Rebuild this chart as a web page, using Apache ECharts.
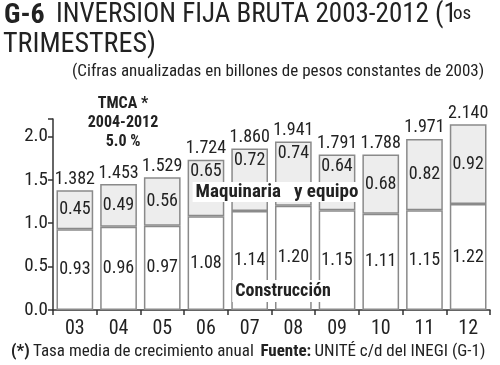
<!DOCTYPE html>
<html><head><meta charset="utf-8">
<script src="https://cdn.jsdelivr.net/npm/echarts@6/dist/echarts.min.js"></script>
<style>html,body{margin:0;padding:0;background:#fff}#c{width:500px;height:365px}</style>
</head><body><div id="c"></div>
<script>
var categories = ['03','04','05','06','07','08','09','10','11','12'];
var construccion = [0.93,0.96,0.97,1.08,1.14,1.20,1.15,1.11,1.15,1.22];
var maquinaria = [0.45,0.49,0.56,0.65,0.72,0.74,0.64,0.68,0.82,0.92];
var totales = ['1.382','1.453','1.529','1.724','1.860','1.941','1.791','1.788','1.971','2.140'];
var yTicks = [0, 0.5, 1.0, 1.5, 2.0];

var F = '"Liberation Sans Narrow", "Roboto Condensed", "Liberation Sans", sans-serif';
// bars under the "Maquinaria y equipo" caption keep their label near the top
var topLabelIdx = [3, 4, 5, 6];
var maqData = maquinaria.map(function(v, i){
  var d = {value: v};
  if (topLabelIdx.indexOf(i) >= 0) d.label = {position: 'insideTop', distance: 3};
  return d;
});
var chart = echarts.init(document.getElementById('c'));
chart.setOption({
  animation: false,
  grid: {left: 53, right: 10, top: 119, bottom: 55},
  xAxis: {
    type: 'category', data: categories,
    axisLine: {lineStyle: {color: '#333', width: 1.5}},
    axisTick: {show: true, length: 5, lineStyle: {color: '#333', width: 1.5}},
    axisLabel: {color: '#222', fontFamily: F, fontSize: 20, margin: 9}
  },
  yAxis: {
    type: 'value', min: 0, max: 2.2, interval: 0.5,
    splitLine: {show: false},
    axisLine: {show: true, lineStyle: {color: '#333', width: 1.5}},
    axisTick: {show: true, length: 5, lineStyle: {color: '#333', width: 1.5}},
    axisLabel: {color: '#222', fontFamily: F, fontSize: 19, margin: 5,
      formatter: function(v){ return yTicks.indexOf(v) >= 0 ? v.toFixed(1) : ''; }}
  },
  series: [
    {type: 'bar', stack: 's', data: construccion, barCategoryGap: '16%',
      itemStyle: {color: '#ffffff', borderColor: '#8a8a8a', borderWidth: 1.5},
      label: {show: true, position: 'inside', color: '#222', fontFamily: F, fontSize: 18,
        formatter: function(p){ return construccion[p.dataIndex].toFixed(2); }}},
    {type: 'bar', stack: 's', data: maqData,
      itemStyle: {color: '#ededed', borderColor: '#8a8a8a', borderWidth: 1.5},
      label: {show: true, position: 'inside', color: '#222', fontFamily: F, fontSize: 18,
        formatter: function(p){ return maquinaria[p.dataIndex].toFixed(2); }}},
    {type: 'bar', stack: 's', data: categories.map(function(){return 0;}),
      itemStyle: {color: 'transparent', borderWidth: 0},
      label: {show: true, position: 'top', distance: 2, color: '#222', fontFamily: F, fontSize: 18,
        formatter: function(p){ return totales[p.dataIndex]; }}}
  ],
  graphic: [
    {type: 'text', z: 100, left: 4, top: 2, style: {text: 'G-6', font: 'bold 28px ' + F, fill: '#222'}},
    {type: 'text', z: 100, left: 56, top: 2, style: {text: 'INVERSION FIJA BRUTA 2003-2012 (1', font: '27px ' + F, fill: '#222'}},
    {type: 'text', z: 100, left: 453, top: 5, style: {text: 'os', font: '19px ' + F, fill: '#222'}},
    {type: 'text', z: 100, left: 3, top: 31, style: {text: 'TRIMESTRES)', font: '28px ' + F, fill: '#222'}},
    {type: 'text', z: 100, left: 72, top: 63, style: {text: '(Cifras anualizadas en billones de pesos constantes de 2003)', font: '17px ' + F, fill: '#222'}},
    {type: 'text', z: 100, x: 123, y: 94, style: {text: 'TMCA *\n2004-2012\n5.0 %', font: 'bold 16px ' + F, fill: '#222', align: 'center', lineHeight: 19}},
    {type: 'text', z: 100, x: 277, y: 182, style: {text: 'Maquinaria   y equipo', font: 'bold 19px ' + F, fill: '#222', align: 'center',
      backgroundColor: '#fff', padding: [1, 3, 0, 3]}},
    {type: 'text', z: 100, x: 283, y: 280, style: {text: 'Construcción', font: 'bold 18px ' + F, fill: '#222', align: 'center',
      backgroundColor: '#fff', padding: [2, 3, 2, 3]}},
    {type: 'text', z: 100, left: 11, top: 343, style: {rich: {
        b: {font: 'bold 17px ' + F, fill: '#222'},
        n: {font: '17px ' + F, fill: '#222'}},
      text: '{b|(*)} {n|Tasa media de crecimiento anual}  {b|Fuente:} {n|UNITÉ c/d del INEGI (G-1)}'}}
  ]
});
</script></body></html>
